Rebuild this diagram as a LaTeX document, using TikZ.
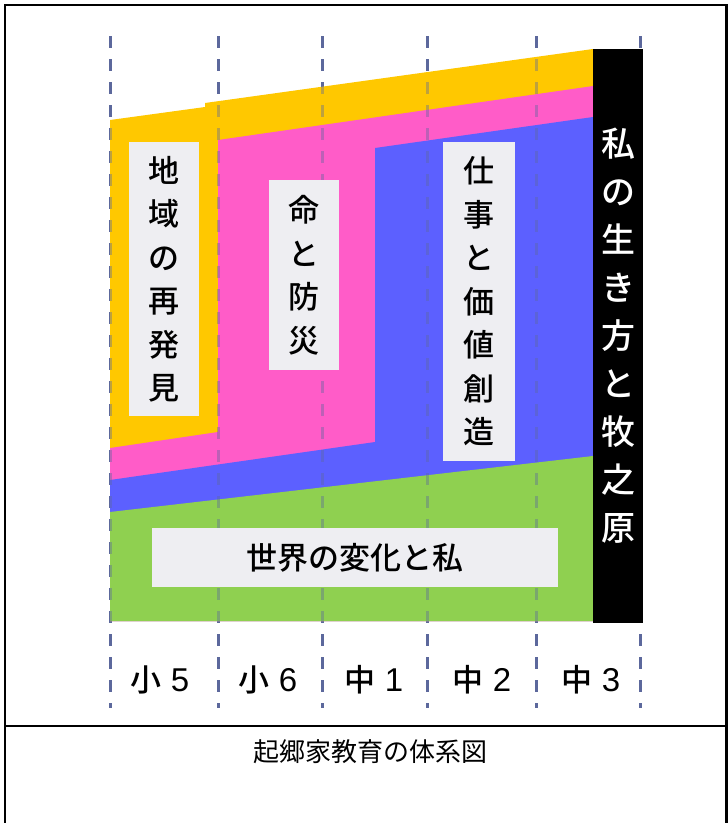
\documentclass[tikz,border=0pt]{standalone}
\usepackage{fontspec}
\newfontfamily\jp{Noto Sans CJK JP}
\IfFontExistsTF{Noto Sans CJK JP Medium}{\newfontfamily\jpm{Noto Sans CJK JP Medium}}{\newcommand\jpm{\jp\bfseries}}
\newfontfamily\digitfont{Liberation Sans}
\definecolor{yel}{RGB}{255,200,0}
\definecolor{pnk}{RGB}{255,92,200}
\definecolor{blu}{RGB}{92,96,255}
\definecolor{grn}{RGB}{143,208,80}
\definecolor{lblbg}{RGB}{238,238,242}
\definecolor{dashc}{RGB}{92,104,156}
\tikzset{
  gridline/.style={draw=dashc, line width=3pt, dash pattern=on 12pt off 11pt},
  lblbox/.style={fill=lblbg, inner sep=0pt, align=center, text=black,
    font=\jpm\fontsize{31pt}{43.5pt}\selectfont},
  yearlbl/.style={inner sep=0pt, text=black, font=\jpm\fontsize{31pt}{31pt}\selectfont},
}
\newcommand\yr[2]{#1\hspace{0.3em}{\digitfont\fontsize{33pt}{33pt}\selectfont #2}}
\begin{document}
\begin{tikzpicture}[x=1pt,y=-1pt]
\useasboundingbox (0,0) rectangle (728,823);
\fill[white] (0,0) rectangle (728,823);
% grid lines under
\foreach \gx in {110,218,322,427,536,640}{
  \draw[gridline] (\gx,36) -- (\gx,708);
}
% coloured bands
\fill[yel] (110,120) -- (205,107) -- (205,103) -- (593,49) -- (593,621) -- (110,621) -- cycle;
\fill[pnk] (110,448) -- (218,432) -- (218,140) -- (593,86) -- (593,621) -- (110,621) -- cycle;
\fill[blu] (110,480) -- (375,442) -- (375,148) -- (593,117) -- (593,621) -- (110,621) -- cycle;
\fill[grn] (110,512) -- (593,456) -- (593,621) -- (110,621) -- cycle;
% grid lines faint on top
\foreach \gx in {110,218,322,427,536}{
  \draw[gridline, opacity=0.4] (\gx,36) -- (\gx,621);
}
% labels
\node[lblbox, minimum width=70pt, minimum height=274pt] (chiiki) at (164,279) {地\\域\\の\\再\\発\\見};
\node[lblbox, minimum width=70pt, minimum height=190pt] (inochi) at (304,275) {命\\と\\防\\災};
\node[lblbox, minimum width=72pt, minimum height=319pt] (shigoto) at (479,301.5) {仕\\事\\と\\価\\値\\創\\造};
\node[lblbox, minimum width=406pt, minimum height=59pt, font=\jpm\fontsize{31pt}{31pt}\selectfont] (sekai) at (355,557.5) {世界の変化と私};
\node[fill=black, inner sep=0pt, minimum width=50pt, minimum height=574pt, align=center, text=white,
  font=\jpm\fontsize{34pt}{48pt}\selectfont] (watashi) at (618,336) {私\\の\\生\\き\\方\\と\\牧\\之\\原};
% year labels
\node[yearlbl] (s5) at (160,680) {\yr{小}{5}};
\node[yearlbl] (s6) at (268,680) {\yr{小}{6}};
\node[yearlbl] (c1) at (374,680) {\yr{中}{1}};
\node[yearlbl] (c2) at (482,680) {\yr{中}{2}};
\node[yearlbl] (c3) at (591,680) {\yr{中}{3}};
% table frame
\draw[line width=2.5pt] (5,823) -- (5,5) -- (726.5,5) -- (726.5,823);
\draw[line width=2pt] (5,726) -- (726.5,726);
\node[inner sep=0pt, font=\jp\fontsize{26pt}{26pt}\selectfont] (caption) at (370,752) {起郷家教育の体系図};
\end{tikzpicture}
\end{document}
